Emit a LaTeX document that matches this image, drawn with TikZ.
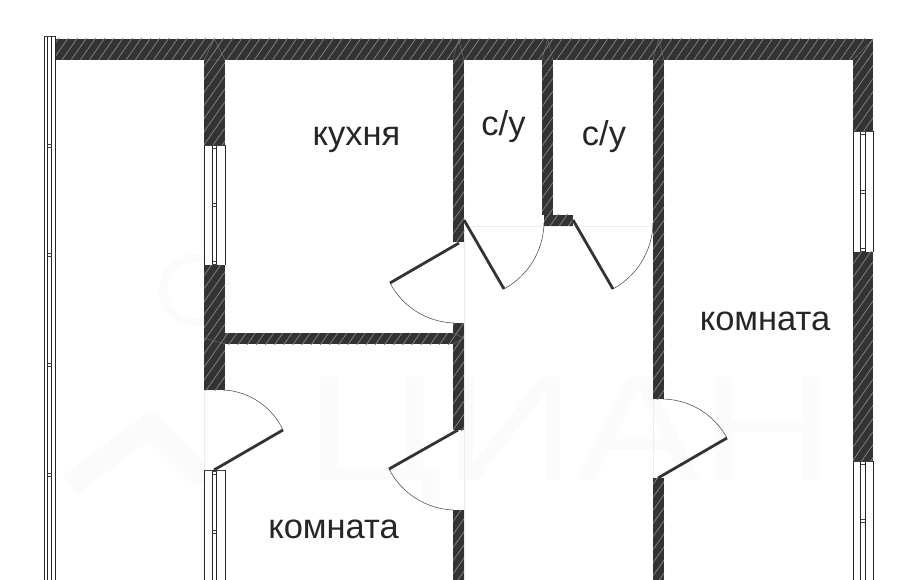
\documentclass[tikz,border=0pt]{standalone}
\usepackage{fontspec}
\setmainfont{Liberation Sans}
\usetikzlibrary{
  patterns.meta
}

\begin{document}
\begin{tikzpicture}[
  x=1pt,y=-1pt,
  wall/.style={
    fill=black!80,
    postaction={pattern={Lines[angle=55,distance=7.5pt,line width=0.8pt]},pattern color=black!50},
    },
  seam/.style={line width=0.3pt,black!50},
  leaf/.style={line width=2.8pt,black!80},
  swing/.style={line width=0.5pt,black!75,bend right=30,looseness=0.92},
  frame/.style={line width=0.9pt,black!85},
  sash/.style={line width=0.6pt,black!75},
  guide/.style={line width=0.4pt,black!7},
  room/.style={font=\fontsize{34.5}{34.5}\selectfont,text=black!85,inner sep=0pt,anchor=base},
  brandmark/.style={text=black!1.5,font=\fontsize{150}{150}\selectfont,inner sep=0pt,anchor=base},
  ]
\useasboundingbox (0,0) rectangle (913,580);
\clip (0,0) rectangle (913,580);

% watermark
\node[brandmark,xscale=1.24,transform shape] (brand) at (570,480) {ЦИАН};
\draw[line width=24pt,black!1.5,line join=round] (70,485) -- (150,425) -- (205,480);
\draw[line width=8pt,black!1.5] (195,290) circle[radius=32];

% faint opening lines
\draw[guide] (204,390) -- (204,470);
\draw[guide] (464,226) -- (464,580);
\draw[guide] (464,226) -- (653,226);
\draw[guide] (653,399) -- (653,478);

% walls
\foreach \xa/\ya/\xb/\yb in {
  55/39/873/60, 853/60/873/131, 853/252/873/461,
  204/60/225/145, 204/265/225/390,
  225/333/453/344,
  453/60/464/242, 453/323/464/430, 453/510/464/580,
  542/60/553/215, 544/215/573/226,
  653/60/664/399, 653/478/664/580}
  \fill[wall] (\xa,\ya) rectangle (\xb,\yb);

% wall joints
\foreach \xa/\xb in {204/225, 453/464, 542/553, 653/664}
  \draw[seam] (\xa,60) -- ({(\xa+\xb)/2},39) -- (\xb,60) -- cycle;
\draw[seam] (853,60) -- (873,39);
\draw[seam] (204,338) -- (225,344) -- (225,333);
\draw[seam] (453,333) -- (464,338) -- (453,344);

% windows
\foreach \xa/\xb/\ya/\yb in {
  44/55/36/580, 204/225/145/265, 204/225/470/580,
  853/873/131/252, 853/873/461/580}{
  \draw[frame] (\xa,\ya) -- (\xa,\yb) (\xb,\ya) -- (\xb,\yb);
  \draw[frame] ({(\xa+\xb)/2-2.2},\ya) -- ({(\xa+\xb)/2-2.2},\yb);
  \draw[frame] ({(\xa+\xb)/2+2.2},\ya) -- ({(\xa+\xb)/2+2.2},\yb);
  \draw[sash] (\xa,\ya) -- (\xb,\ya);
}
\foreach \cx/\ty in {
  49.5/146, 49.5/255, 49.5/365, 49.5/475,
  214.5/147, 214.5/205, 214.5/263, 214.5/473, 214.5/532,
  863/133, 863/192, 863/250, 863/463, 863/521}{
  \draw[sash] (\cx-2.2,\ty-1.5) -- (\cx+2.2,\ty-1.5);
  \draw[sash] (\cx-2.2,\ty+1.5) -- (\cx+2.2,\ty+1.5);
}

% doors
\foreach \hx/\hy/\lx/\ly/\ex/\ey in {
  459/243/390/283/454/323,
  464/220/504/289/544/223,
  573/220/613/289/653/223,
  214/470/283/430/225/390,
  458/430/389/469/453/510,
  658/478/727/438/663/399}{
  \coordinate (hinge) at (\hx,\hy);
  \coordinate (tip) at (\lx,\ly);
  \coordinate (stop) at (\ex,\ey);
  \draw[leaf] (hinge) -- (tip);
  \draw[swing] (tip) to (stop);
}

% rooms
\node[room] (kitchen) at (356.5,146) {кухня};
\node[room] (wcleft) at (503.5,136) {с/у};
\node[room] (wcright) at (604,146) {с/у};
\node[room] (roomright) at (765,330) {комната};
\node[room] (roomleft) at (333.5,538) {комната};
\end{tikzpicture}
\end{document}
